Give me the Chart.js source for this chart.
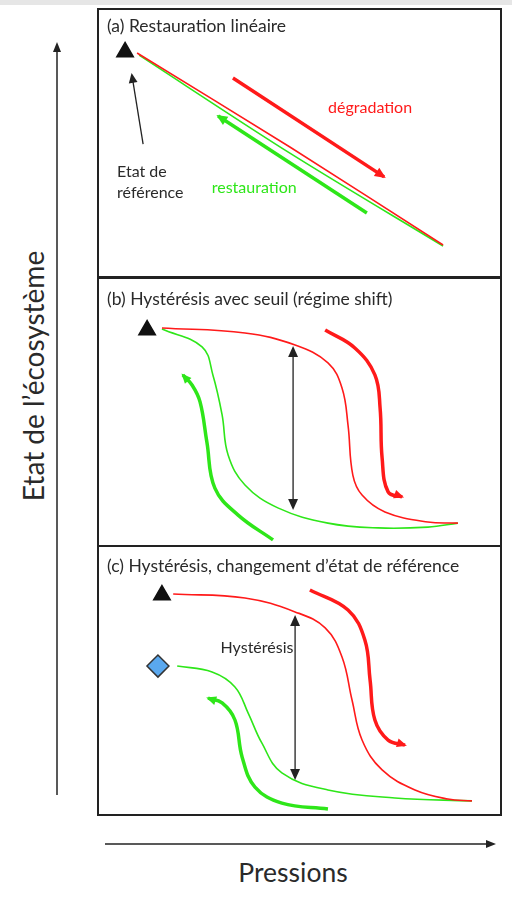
<!DOCTYPE html>
<html>
<head>
<meta charset="utf-8">
<script src="https://cdn.jsdelivr.net/npm/chart.js@4.4.0/dist/chart.umd.min.js"></script>
<style>
body { margin: 0; width: 512px; height: 909px; background: #fff; position: relative; overflow: hidden; font-family: Lato, "Open Sans", sans-serif; }
.strip { position: absolute; left: 0; top: 0; width: 512px; height: 5px; background: #e6e6e6; }
.panel { position: absolute; left: 97px; width: 405px; height: 271px; border: 2px solid #222; box-sizing: border-box; }
.panel div { position: relative; width: 401px; height: 267px; }
.ylab { position: absolute; left: 33px; top: 376px; transform: translate(-50%, -50%) rotate(-90deg); font-size: 28px; color: #2a2a2a; white-space: nowrap; }
.xlab { position: absolute; left: 293px; top: 872px; transform: translate(-50%, -50%); font-size: 26.5px; color: #2a2a2a; white-space: nowrap; }
svg { position: absolute; left: 0; top: 0; }
</style>
</head>
<body>
<div class="strip"></div>
<svg width="512" height="909">
  <line x1="57" y1="795" x2="57" y2="50" stroke="#222" stroke-width="1.5"/>
  <polygon points="57,42 53,52 61,52" fill="#222"/>
  <line x1="105" y1="844" x2="488" y2="844" stroke="#222" stroke-width="1.5"/>
  <polygon points="496,844 486,840 486,848" fill="#222"/>
</svg>
<div class="ylab">Etat de l’écosystème</div>
<div class="xlab">Pressions</div>

<div class="panel" style="top:8px"><div><canvas id="pa"></canvas></div></div>
<div class="panel" style="top:276px"><div><canvas id="pb"></canvas></div></div>
<div class="panel" style="top:545px"><div><canvas id="pc"></canvas></div></div>

<script>
// pressure (x) vs ecosystem state (y), both on a 0-100 scale in each panel

const RED = "#ff1a1a";
const GREEN = "#2ee619";

// panel (a) linear restoration
const aTitle = "(a) Restauration linéaire";
const aRef = [[6.5, 84.3]];
const aDegrad = [[9.5, 83.9], [47.6, 48.7], [85.8, 12.0]];
const aRestor = [[10.0, 83.1], [47.6, 46.4], [85.8, 11.6]];
const aDegradArrow = [[33.4, 74.5], [71.1, 37.5]];
const aRestorArrow = [[66.8, 24.0], [29.7, 60.3]];
const aRefArrow = [[11.0, 49.8], [8.2, 75.7]];

// panel (b) hysteresis with threshold
const bTitle = "(b) Hystérésis avec seuil (régime shift)";
const bRef = [[12.0, 80.5]];
const bDegrad = [[15.7, 81.3], [36.4, 79.4], [48.9, 74.9], [57.1, 68.2], [60.6, 58.8], [62.1, 44.9],
  [63.3, 26.2], [65.6, 18.7], [71.3, 12.4], [82.0, 8.6], [89.5, 8.2]];
const bRestor = [[15.7, 80.9], [25.7, 74.2], [28.4, 63.7], [30.7, 48.7], [32.2, 33.7], [36.4, 22.5],
  [44.6, 13.9], [57.1, 8.2], [69.6, 6.4], [82.0, 6.7], [89.5, 8.2]];
const bRestorArrow = [[43.4, 1.9], [34.7, 11.2], [28.9, 21.3], [26.9, 38.6], [25.2, 53.6], [23.2, 59.9], [20.9, 63.7]];
const bDegradArrow = [[56.4, 80.5], [63.8, 73.8], [68.8, 63.7], [70.1, 51.3], [70.6, 32.6], [72.1, 19.9], [75.6, 18.0]];
const bGap = [[48.4, 73.8], [48.4, 13.9]];

// panel (c) hysteresis with shifted reference state
const cTitle = "(c) Hystérésis, changement d’état de référence";
const cRef = [[15.7, 82.0]];
const cNewRef = [[14.7, 55.4]];
const cDegrad = [[18.5, 82.4], [36.4, 80.9], [48.9, 75.7], [56.4, 69.7], [60.6, 58.8], [63.1, 42.7],
  [65.6, 27.7], [70.6, 16.5], [78.8, 9.0], [87.0, 5.6], [93.0, 4.9]];
const cRestor = [[19.5, 55.4], [28.2, 53.2], [33.9, 47.6], [37.2, 37.8], [40.6, 26.6], [45.6, 15.4],
  [57.1, 9.0], [73.8, 6.0], [93.0, 4.9]];
const cRestorArrow = [[57.1, 1.9], [45.6, 4.1], [38.9, 10.1], [35.7, 21.3], [33.9, 35.2], [30.7, 41.6], [27.2, 43.4]];
const cDegradArrow = [[52.6, 83.9], [62.1, 76.4], [66.3, 65.2], [67.6, 50.2], [68.8, 35.2], [72.1, 27.7], [76.3, 25.8]];
const cGap = [[48.9, 73.8], [48.9, 13.5]];

const pts = (arr) => arr.map(([x, y]) => ({ x, y }));

const curve = (data, color, width, tension, arrow, head) => ({
  data: pts(data),
  showLine: true,
  borderColor: color,
  backgroundColor: color,
  borderWidth: width,
  tension: tension,
  pointRadius: 0,
  arrow: arrow,
  head: head || 6,
});

const marker = (data, style, radius, fill, stroke) => ({
  data: pts(data),
  pointStyle: style,
  pointRadius: radius,
  pointBackgroundColor: fill,
  pointBorderColor: stroke,
  pointBorderWidth: 1.5,
});

// draws arrow heads at the ends of flagged datasets
const drawHead = (ctx, tip, from, color, size) => {
  let dx = tip.x - from.x;
  let dy = tip.y - from.y;
  const len = Math.hypot(dx, dy) || 1;
  dx /= len;
  dy /= len;
  ctx.save();
  ctx.fillStyle = color;
  ctx.beginPath();
  ctx.moveTo(tip.x + dx * 2, tip.y + dy * 2);
  ctx.lineTo(tip.x - dx * size - dy * size * 0.55, tip.y - dy * size + dx * size * 0.55);
  ctx.lineTo(tip.x - dx * size + dy * size * 0.55, tip.y - dy * size - dx * size * 0.55);
  ctx.closePath();
  ctx.fill();
  ctx.restore();
};

const arrowPlugin = {
  id: "arrows",
  afterDatasetsDraw(chart) {
    const ctx = chart.ctx;
    chart.data.datasets.forEach((ds, i) => {
      if (!ds.arrow) return;
      const p = chart.getDatasetMeta(i).data;
      const n = p.length;
      const last = p[n - 1];
      const endFrom = last.cp1x !== undefined && Math.hypot(last.x - last.cp1x, last.y - last.cp1y) > 1
        ? { x: last.cp1x, y: last.cp1y } : p[n - 2];
      drawHead(ctx, last, endFrom, ds.borderColor, ds.head);
      if (ds.arrow === "both") {
        drawHead(ctx, p[0], p[1], ds.borderColor, ds.head);
      }
    });
  },
};

// text notes placed in data units
const notesPlugin = {
  id: "notes",
  afterDraw(chart, args, opts) {
    const ctx = chart.ctx;
    const xs = chart.scales.x;
    const ys = chart.scales.y;
    (opts.items || []).forEach((t) => {
      ctx.save();
      ctx.font = (t.size || 16) + "px Lato, 'Open Sans', sans-serif";
      ctx.fillStyle = t.color || "#2a2a2a";
      ctx.textAlign = t.align || "center";
      ctx.textBaseline = "middle";
      ctx.fillText(t.text, xs.getPixelForValue(t.x), ys.getPixelForValue(t.y));
      ctx.restore();
    });
  },
};

const makePanel = (id, datasets, notes) => {
  return new Chart(document.getElementById(id), {
    type: "scatter",
    data: { datasets },
    options: {
      responsive: true,
      maintainAspectRatio: false,
      animation: false,
      layout: { padding: 0, autoPadding: false },
      scales: {
        x: { type: "linear", min: 0, max: 100, display: false },
        y: { type: "linear", min: 0, max: 100, display: false },
      },
      plugins: {
        legend: { display: false },
        tooltip: { enabled: false },
        notes: { items: notes },
      },
    },
    plugins: [arrowPlugin, notesPlugin],
  });
};

makePanel("pa", [
  curve(aDegrad, RED, 1.6, 0.3),
  curve(aRestor, GREEN, 1.6, 0.3),
  curve(aDegradArrow, RED, 3.5, 0, "end", 9),
  curve(aRestorArrow, GREEN, 3.5, 0, "end", 9),
  curve(aRefArrow, "#222", 1.3, 0, "end", 8),
  marker(aRef, "triangle", 9.5, "#111", "#111"),
], [
  { text: aTitle, x: 2.0, y: 93.8, align: "left", size: 17.5 },
  { text: "dégradation", x: 67.6, y: 63.3, color: RED },
  { text: "restauration", x: 38.7, y: 33.3, color: GREEN },
  { text: "Etat de", x: 4.5, y: 39.3, align: "left" },
  { text: "référence", x: 4.5, y: 31.5, align: "left" },
]);

makePanel("pb", [
  curve(bDegrad, RED, 1.6, 0.4),
  curve(bRestor, GREEN, 1.6, 0.4),
  curve(bDegradArrow, RED, 3.5, 0.4, "end", 8),
  curve(bRestorArrow, GREEN, 3.5, 0.4, "end", 8),
  curve(bGap, "#222", 1.3, 0, "both", 9),
  marker(bRef, "triangle", 9.5, "#111", "#111"),
], [
  { text: bTitle, x: 2.0, y: 92.1, align: "left", size: 17.5 },
]);

makePanel("pc", [
  curve(cDegrad, RED, 1.6, 0.4),
  curve(cRestor, GREEN, 1.6, 0.4),
  curve(cDegradArrow, RED, 3.5, 0.4, "end", 8),
  curve(cRestorArrow, GREEN, 3.5, 0.4, "end", 8),
  curve(cGap, "#222", 1.3, 0, "both", 9),
  marker(cRef, "triangle", 9.5, "#111", "#111"),
  marker(cNewRef, "rectRot", 11, "#5aa8ee", "#333"),
], [
  { text: cTitle, x: 2.0, y: 92.9, align: "left", size: 17.5 },
  { text: "Hystérésis", x: 39.4, y: 62.2 },
]);
</script>
</body>
</html>
